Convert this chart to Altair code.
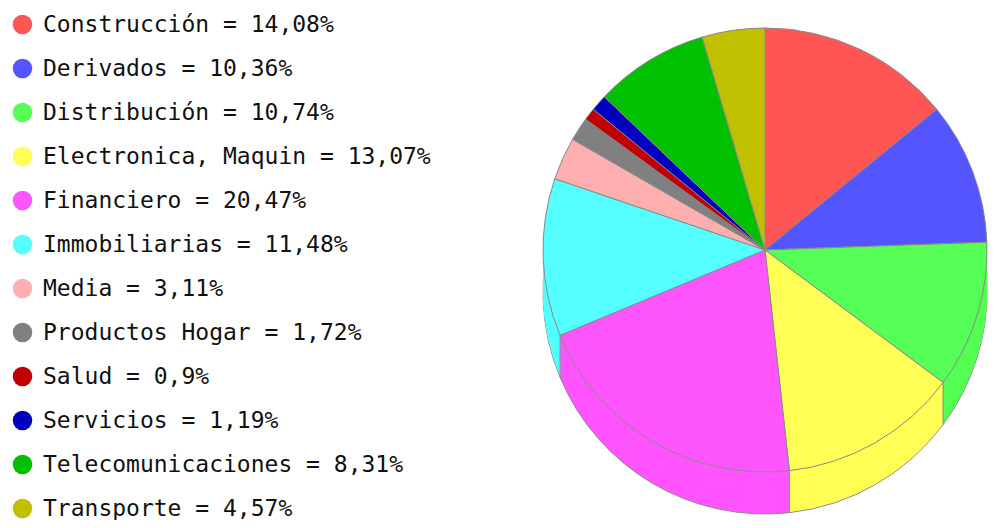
import altair as alt
import pandas as pd

names = ["Construcción", "Derivados", "Distribución", "Electronica,  Maquin",
         "Financiero", "Immobiliarias", "Media", "Productos  Hogar", "Salud",
         "Servicios", "Telecomunicaciones", "Transporte"]
values = [14.08, 10.36, 10.74, 13.07, 20.47, 11.48, 3.11, 1.72, 0.9, 1.19, 8.31, 4.57]
colors = ["#FF5555", "#5555FF", "#55FF55", "#FFFF55", "#FF55FF", "#55FFFF",
          "#FFAFAF", "#808080", "#C00000", "#0000C0", "#00C000", "#C0C000"]

labels = [f"{n} = {str(v).replace('.', ',')}%" for n, v in zip(names, values)]
df = pd.DataFrame({"label": labels, "value": values, "idx": list(range(len(values)))})

CX, CY, R, D = 757, 242, 222, 42
EDGE = "#8a8a8a"

legend = alt.Legend(
    title=None, orient="none", legendX=3, legendY=5,
    symbolType="circle", symbolSize=380, symbolStrokeWidth=0,
    labelFont="DejaVu Sans Mono", labelFontSize=23, labelColor="#111111",
    labelOffset=9, labelLimit=600, rowPadding=20.0, padding=0,
)
color_enc = alt.Color("label:N", scale=alt.Scale(domain=labels, range=colors),
                      legend=legend, sort=labels)

base = alt.Chart(df)

def pie(yoff, stroke=None):
    kw = dict(radius=R)
    if stroke:
        kw.update(stroke=stroke, strokeWidth=1)
    else:
        kw.update(strokeWidth=0)
    return base.mark_arc(**kw).encode(
        theta=alt.Theta("value:Q", stack=True),
        color=color_enc,
        order=alt.Order("idx:Q"),
        x=alt.value(CX),
        y=alt.value(CY + yoff),
    )

layers = [pie(D, stroke=EDGE)]
for d in range(D - 1, 0, -1):
    layers.append(pie(d))

rules = base.transform_window(
    cum="sum(value)", sort=[alt.SortField("idx")]
).transform_calculate(
    ang="datum.cum / 100 * 2 * PI",
).transform_calculate(
    rx=f"{CX} + {R} * sin(datum.ang)",
    ry=f"{CY} - {R} * cos(datum.ang)",
    ry2=f"{CY} - {R} * cos(datum.ang) + {D}",
    c="cos(datum.ang)",
).transform_filter("datum.c < -0.02").mark_rule(color=EDGE, strokeWidth=1).encode(
    x=alt.X("rx:Q", scale=None),
    y=alt.Y("ry:Q", scale=None),
    y2="ry2:Q",
)

layers.append(rules)
layers.append(pie(0, stroke=EDGE))

chart = alt.layer(*layers).properties(
    width=980, height=512, padding=0,
    autosize=alt.AutoSizeParams(type="none"),
).configure_view(stroke=None)

chart.save("out.html", embed_options={"renderer": "svg", "actions": False})
